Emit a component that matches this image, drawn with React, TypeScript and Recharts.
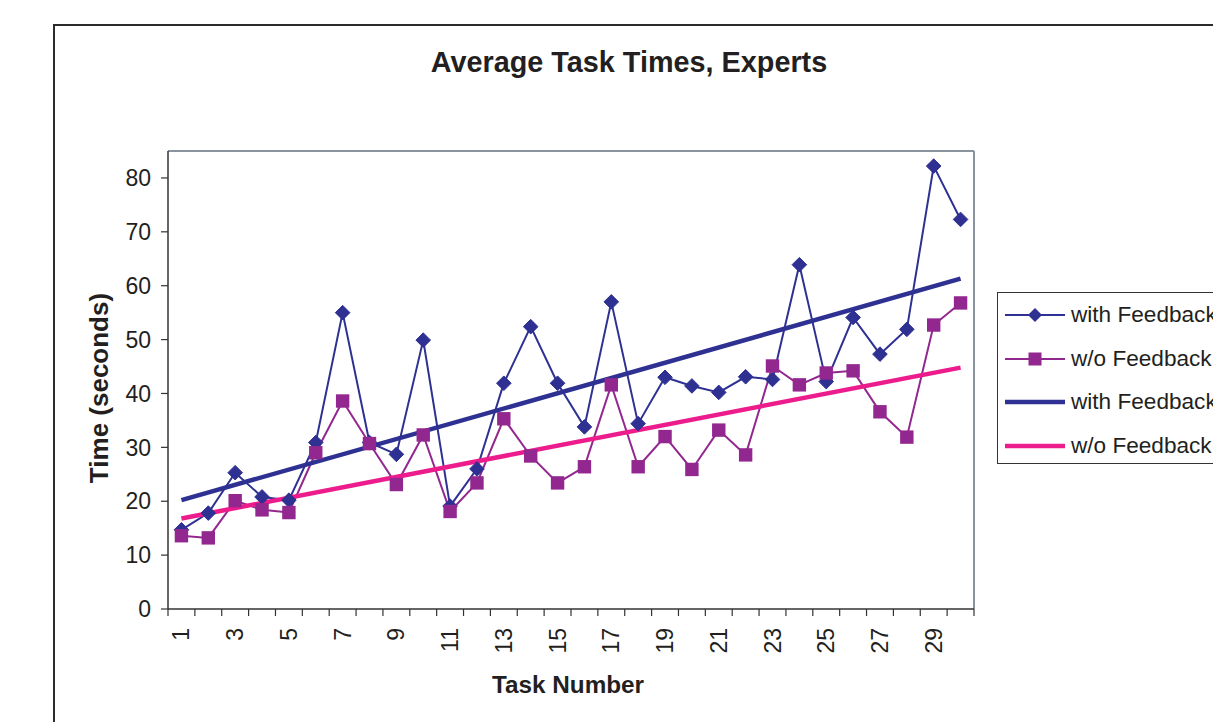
import React from "react";
import { LineChart, Line, XAxis, YAxis, ReferenceLine, Label } from "recharts";

const CATEGORIES = [1, 2, 3, 4, 5, 6, 7, 8, 9, 10, 11, 12, 13, 14, 15, 16, 17, 18, 19, 20, 21, 22, 23, 24, 25, 26, 27, 28, 29, 30];
const WITH_FEEDBACK = [14.7, 17.8, 25.3, 20.8, 20.2, 30.9, 55.0, 30.9, 28.7, 49.9, 19.1, 26.0, 41.9, 52.4, 41.9, 33.8, 57.0, 34.4, 43.0, 41.4, 40.2, 43.1, 42.6, 63.9, 42.2, 54.1, 47.3, 51.9, 82.2, 72.3];
const WITHOUT_FEEDBACK = [13.6, 13.2, 20.1, 18.4, 17.9, 29.0, 38.6, 30.7, 23.1, 32.3, 18.1, 23.4, 35.3, 28.4, 23.4, 26.4, 41.6, 26.4, 32.0, 25.9, 33.2, 28.6, 45.1, 41.6, 43.8, 44.2, 36.6, 31.9, 52.7, 56.8];
const TREND_WITH = [20.2, 61.3];
const TREND_WITHOUT = [16.8, 44.8];
const Y_TICKS = [0, 10, 20, 30, 40, 50, 60, 70, 80];
const Y_MAX = 85;
const X_LABELS = [1, 3, 5, 7, 9, 11, 13, 15, 17, 19, 21, 23, 25, 27, 29];
const LEGEND_LABELS = ["with Feedback", "w/o Feedback", "with Feedback", "w/o Feedback"];

const NAVY = "#2E3192";
const PURPLE = "#92278F";
const PINK = "#EC1C8C";
const TEXT = "#231F20";
const FONT = "'Liberation Sans', Arial, sans-serif";

const last = CATEGORIES.length - 1;
const data = CATEGORIES.map((c, i) => ({
  task: c,
  withF: WITH_FEEDBACK[i],
  withoutF: WITHOUT_FEEDBACK[i],
  trendWith: i === 0 ? TREND_WITH[0] : i === last ? TREND_WITH[1] : null,
  trendWithout: i === 0 ? TREND_WITHOUT[0] : i === last ? TREND_WITHOUT[1] : null,
}));

const EDGE_TICKS = [...CATEGORIES.map((c) => c - 0.5), CATEGORIES[last] + 0.5];
const X_TICKS = [...EDGE_TICKS, ...X_LABELS].sort((a, b) => a - b);

const Diamond = (p: any) => {
  const { cx, cy, index } = p;
  if (cx == null || cy == null) return <g key={`d-${index}`} />;
  const r = 7.3;
  return (
    <polygon
      key={`d-${index}`}
      points={`${cx},${cy - r} ${cx + r},${cy} ${cx},${cy + r} ${cx - r},${cy}`}
      fill={NAVY}
      stroke={NAVY}
      strokeWidth={1}
    />
  );
};

const Square = (p: any) => {
  const { cx, cy, index } = p;
  if (cx == null || cy == null) return <g key={`s-${index}`} />;
  const r = 6.7;
  return <rect key={`s-${index}`} x={cx - r} y={cy - r} width={2 * r} height={2 * r} fill={PURPLE} />;
};

const XTick = (p: any) => {
  const { x, y, payload } = p;
  const v = payload.value;
  if (Math.abs(v - Math.round(v)) > 0.01) {
    return <line x1={x} y1={y} x2={x} y2={y + 7} stroke="#333" strokeWidth={1.2} />;
  }
  return (
    <text
      x={x}
      y={y + 19}
      transform={`rotate(-90, ${x}, ${y + 19})`}
      textAnchor="end"
      dominantBaseline="central"
      fontSize={23}
      fontFamily={FONT}
      fill={TEXT}
    >
      {v}
    </text>
  );
};

const LegendSample = ({ i }: { i: number }) => {
  const color = i === 0 || i === 2 ? NAVY : i === 1 ? PURPLE : PINK;
  const w = i < 2 ? 2 : 4.5;
  return (
    <svg width={62} height={20} style={{ display: "block" }}>
      <line x1={0} y1={10} x2={60} y2={10} stroke={color} strokeWidth={w} />
      {i === 0 && <polygon points="30,3 37,10 30,17 23,10" fill={NAVY} />}
      {i === 1 && <rect x={23.5} y={3.5} width={13} height={13} fill={PURPLE} />}
    </svg>
  );
};

export default function App() {
  return (
    <div style={{ position: "absolute", left: 0, top: 0, width: 1213, height: 722, overflow: "hidden", background: "#fff" }}>
      <div
        style={{
          position: "absolute",
          left: 53,
          top: 24,
          width: 1400,
          height: 900,
          border: "2px solid #2b2b2b",
        }}
      />
      <div
        style={{
          position: "absolute",
          left: 379,
          top: 48,
          width: 500,
          textAlign: "center",
          fontFamily: FONT,
          fontWeight: "bold",
          fontSize: 28.8,
          lineHeight: "29px",
          color: TEXT,
        }}
      >
        Average Task Times, Experts
      </div>
      <div style={{ position: "absolute", left: 0, top: 0 }}>
        <LineChart width={1213} height={722} data={data} margin={{ top: 151, right: 239, bottom: 0, left: 60 }}>
          <XAxis
            dataKey="task"
            type="number"
            domain={[0.5, 30.5]}
            ticks={X_TICKS}
            interval={0}
            tickLine={false}
            tickSize={0}
            tickMargin={0}
            tick={<XTick />}
            height={113}
            axisLine={{ stroke: "#333", strokeWidth: 1.5 }}
          >
            <Label
              content={(props: any) => {
                const vb = props.viewBox || { x: 168, y: 609, width: 806, height: 113 };
                return (
                  <text
                    x={vb.x + vb.width / 2 - 3}
                    y={vb.y + 84}
                    textAnchor="middle"
                    fontSize={24.3}
                    fontWeight="bold"
                    fontFamily={FONT}
                    fill={TEXT}
                  >
                    Task Number
                  </text>
                );
              }}
            />
          </XAxis>
          <YAxis
            type="number"
            domain={[0, Y_MAX]}
            ticks={Y_TICKS}
            interval={0}
            width={108}
            tickSize={7}
            tickMargin={10}
            tick={{ fontSize: 23, fontFamily: FONT, fill: TEXT }}
            tickLine={{ stroke: "#333", strokeWidth: 1.2 }}
            axisLine={{ stroke: "#333", strokeWidth: 1.5 }}
          >
            <Label
              content={(props: any) => {
                const vb = props.viewBox || { x: 60, y: 151, width: 108, height: 458 };
                const cx = vb.x + 39;
                const cy = vb.y + vb.height / 2 + 8;
                return (
                  <text
                    x={cx}
                    y={cy}
                    transform={`rotate(-90, ${cx}, ${cy})`}
                    textAnchor="middle"
                    dominantBaseline="central"
                    fontSize={26}
                    fontWeight="bold"
                    fontFamily={FONT}
                    fill={TEXT}
                  >
                    Time (seconds)
                  </text>
                );
              }}
            />
          </YAxis>
          <ReferenceLine y={Y_MAX} stroke="#8A949E" strokeWidth={2} />
          <ReferenceLine x={30.5} stroke="#8A949E" strokeWidth={2} />
          <Line
            dataKey="withF"
            stroke={NAVY}
            strokeWidth={2}
            dot={(p: any) => <Diamond {...p} key={`d-${p.index}`} />}
            isAnimationActive={false}
          />
          <Line
            dataKey="withoutF"
            stroke={PURPLE}
            strokeWidth={2}
            dot={(p: any) => <Square {...p} key={`s-${p.index}`} />}
            isAnimationActive={false}
          />
          <Line dataKey="trendWith" stroke={NAVY} strokeWidth={4.5} dot={false} connectNulls isAnimationActive={false} />
          <Line dataKey="trendWithout" stroke={PINK} strokeWidth={4.5} dot={false} connectNulls isAnimationActive={false} />
        </LineChart>
      </div>
      <div
        style={{
          position: "absolute",
          left: 997,
          top: 292,
          width: 400,
          height: 172,
          border: "1.5px solid #333",
          boxSizing: "border-box",
          background: "#fff",
        }}
      >
        {LEGEND_LABELS.map((t, i) => (
          <div
            key={i}
            style={{
              position: "absolute",
              left: 7,
              top: 12 + i * 43.5,
              display: "flex",
              alignItems: "center",
              height: 20,
              fontFamily: FONT,
              fontSize: 22.6,
              color: TEXT,
              whiteSpace: "nowrap",
            }}
          >
            <LegendSample i={i} />
            <span style={{ marginLeft: 4 }}>{t}</span>
          </div>
        ))}
      </div>
    </div>
  );
}
